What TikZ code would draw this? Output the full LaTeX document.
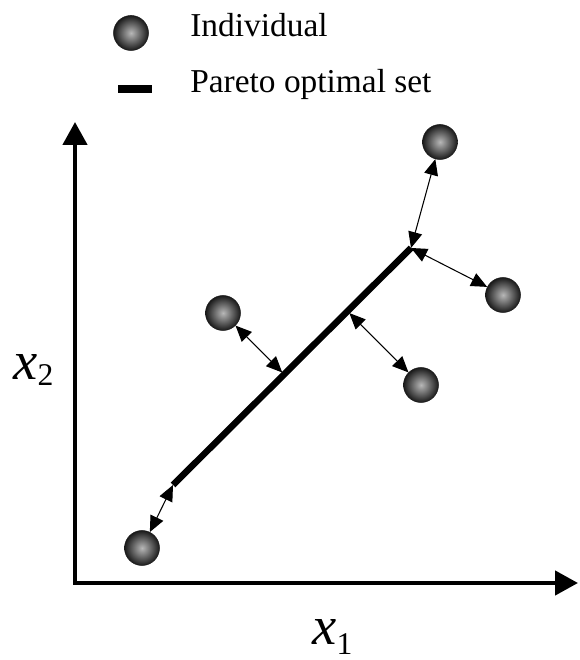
\documentclass[tikz,border=0pt]{standalone}
\usepackage{fontspec}
\setmainfont{Liberation Serif}
\usetikzlibrary{arrows.meta, calc}

\tikzset{
  individual/.style={circle, inner sep=0pt, minimum size=0.7cm,
    inner color=black!28, outer color=black!90, draw=black!90, line width=0.3pt},
  pareto/.style={line width=0.13cm},
  axis/.style={line width=0.09cm, line join=miter,
    {Triangle[length=0.46cm, width=0.48cm]}-{Triangle[length=0.46cm, width=0.48cm]}},
  dist/.style={line width=0.6pt,
    {Triangle[length=0.32cm, width=0.28cm]}-{Triangle[length=0.32cm, width=0.28cm]}},
  legend/.style={anchor=base west, inner sep=0pt, font=\fontsize{19}{22}\selectfont},
}

\begin{document}
\begin{tikzpicture}
  \useasboundingbox (0,0) rectangle (11.58,13.2);
  % legend
  \node[individual] (keyball) at (2.62,12.54) {};
  \draw[line width=0.15cm] (2.36,11.42) -- (3.04,11.42);
  \node[legend] (keyind) at (3.8,12.46) {Individual};
  \node[legend] (keyset) at (3.8,11.34) {Pareto optimal set};
  % axes
  \coordinate (o) at (1.5,1.54);
  \coordinate (ytip) at (1.5,10.76);
  \coordinate (xtip) at (11.56,1.54);
  \draw[axis] (ytip) -- (o) -- (xtip);
  \node[anchor=base west, inner sep=0pt] (xlab2) at (0.26,5.6)
    {{\fontsize{31}{31}\selectfont\itshape x}{\fontsize{18}{18}\selectfont\raisebox{-0.17em}{2}}};
  \node[anchor=base west, inner sep=0pt] (xlab1) at (6.24,0.3)
    {{\fontsize{31}{31}\selectfont\itshape x}{\fontsize{18}{18}\selectfont\raisebox{-0.3em}{1}}};
  % Pareto optimal set
  \coordinate (p0) at (3.46,3.5);
  \coordinate (p1) at (8.22,8.24);
  \draw[pareto] (p0) -- (p1);
  % individuals
  \node[individual] (b1) at (8.8,10.36) {};
  \node[individual] (b2) at (10.06,7.3) {};
  \node[individual] (b3) at (4.46,6.94) {};
  \node[individual] (b4) at (8.42,5.5) {};
  \node[individual] (b5) at (2.84,2.24) {};
  % distances to the set
  \coordinate (f3) at ($(p0)!(b3)!(p1)$);
  \coordinate (f4) at ($(p0)!(b4)!(p1)$);
  \draw[dist] (b1) -- (p1);
  \draw[dist] (b2) -- (p1);
  \draw[dist, shorten >=1.5pt] (b3) -- (f3);
  \draw[dist, shorten >=1.5pt] (b4) -- (f4);
  \draw[dist] (b5) -- (p0);
\end{tikzpicture}
\end{document}
